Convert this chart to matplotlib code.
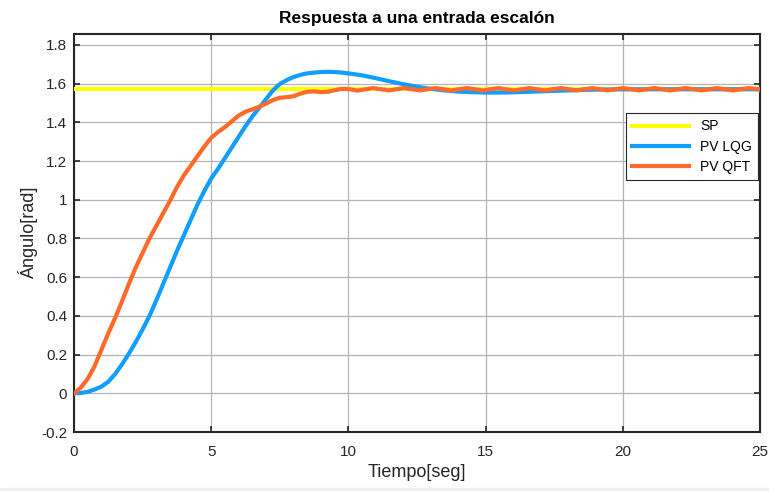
import matplotlib
matplotlib.use("Agg")
import matplotlib.pyplot as plt
from matplotlib.patches import Rectangle

plt.rcParams['font.family'] = ['Liberation Sans', 'DejaVu Sans']

# set point (constant)
t_sp = [0, 25]
v_sp = [1.5708, 1.5708]

# LQG response
t_lqg = [0, 0.25, 0.5, 0.75, 1.0, 1.25, 1.5, 1.75, 2.0, 2.25, 2.5, 2.75,
         3.0, 3.25, 3.5, 3.75, 4.0, 4.25, 4.5, 4.75, 5.0, 5.25, 5.5, 5.75,
         6.0, 6.25, 6.5, 6.75, 7.0, 7.25, 7.5, 7.75, 8.0, 8.25, 8.5, 8.75,
         9.0, 9.25, 9.5, 9.75, 10.0, 10.5, 11.0, 11.5, 12.0, 12.5, 13.0,
         13.5, 14.0, 14.5, 15.0, 15.5, 16.0, 17.0, 18.0, 19.0, 20.0, 22.0, 25.0]
v_lqg = [0, 0.002, 0.008, 0.02, 0.035, 0.06, 0.10, 0.15, 0.205, 0.265,
         0.33, 0.40, 0.48, 0.565, 0.65, 0.735, 0.815, 0.895, 0.975, 1.045,
         1.11, 1.16, 1.215, 1.27, 1.325, 1.38, 1.43, 1.475, 1.52, 1.565,
         1.598, 1.618, 1.634, 1.645, 1.653, 1.657, 1.660, 1.661, 1.660,
         1.657, 1.653, 1.643, 1.628, 1.612, 1.597, 1.584, 1.573, 1.565,
         1.559, 1.556, 1.554, 1.554, 1.555, 1.560, 1.565, 1.569, 1.5705,
         1.5708, 1.5708]

# QFT response
t_qft = [0, 0.25, 0.5, 0.75, 1.0, 1.25, 1.5, 1.75, 2.0, 2.25, 2.5, 2.75,
         3.0, 3.25, 3.5, 3.75, 4.0, 4.25, 4.5, 4.75, 5.0, 5.25, 5.5, 5.75,
         6.0, 6.25, 6.5, 6.75, 7.0, 7.25, 7.5, 7.75, 8.0, 8.25, 8.5, 8.75,
         9.0, 9.25, 9.5, 9.75, 10.0, 10.33,
         10.9, 11.47, 12.04, 12.61, 13.18, 13.75, 14.32, 14.89, 15.46, 16.03,
         16.6, 17.17, 17.74, 18.31, 18.88, 19.45, 20.02, 20.59, 21.16, 21.73,
         22.3, 22.87, 23.44, 24.01, 24.58, 25.0]
v_qft = [0, 0.03, 0.075, 0.14, 0.225, 0.31, 0.39, 0.475, 0.565, 0.65,
         0.725, 0.80, 0.865, 0.93, 0.995, 1.065, 1.125, 1.175, 1.225, 1.275,
         1.32, 1.35, 1.375, 1.405, 1.435, 1.455, 1.467, 1.48, 1.497, 1.515,
         1.527, 1.53, 1.535, 1.548, 1.558, 1.56, 1.556, 1.558, 1.566, 1.573,
         1.572, 1.564,
         1.577, 1.565, 1.577, 1.565, 1.577, 1.565, 1.577, 1.565, 1.577, 1.565,
         1.577, 1.565, 1.577, 1.565, 1.577, 1.565, 1.577, 1.565, 1.577, 1.565,
         1.577, 1.565, 1.577, 1.565, 1.577, 1.570]

x_ticks = [0, 5, 10, 15, 20, 25]
y_ticks = [-0.2, 0, 0.2, 0.4, 0.6, 0.8, 1, 1.2, 1.4, 1.6, 1.8]
y_tick_labels = ['-0.2', '0', '0.2', '0.4', '0.6', '0.8', '1', '1.2', '1.4', '1.6', '1.8']

fig = plt.figure(figsize=(7.69, 4.91), dpi=100)
ax = fig.add_axes([0.0962, 0.120, 0.892, 0.811])

ax.plot(t_sp, v_sp, color='#FFFF00', lw=3, label='SP', zorder=3)
ax.plot(t_lqg, v_lqg, color='#129EFF', lw=3, label='PV LQG', zorder=4)
ax.plot(t_qft, v_qft, color='#FF6929', lw=3, label='PV QFT', zorder=5)

ax.set_xlim(0, 25)
ax.set_ylim(-0.2, 1.857)
ax.set_xticks(x_ticks)
ax.set_yticks(y_ticks)
ax.set_yticklabels(y_tick_labels)
ax.grid(True, color='#b4b4b4', lw=0.9)
ax.set_axisbelow(True)
ax.tick_params(direction='in', length=4.5, width=1.2, top=True, right=True,
               labelsize=11, colors='#262626')
ax.tick_params(axis='x', pad=9)
ax.tick_params(axis='y', pad=5)
for s in ax.spines.values():
    s.set_linewidth(1.5)
    s.set_color('#262626')

ax.set_title('Respuesta a una entrada escalón', fontsize=12.5, fontweight='bold', pad=8)
ax.set_xlabel('Tiempo[seg]', fontsize=13, color='#262626', labelpad=4)
ax.set_ylabel('Ángulo[rad]', fontsize=13, color='#262626', labelpad=2)

leg = ax.legend(loc='upper right', bbox_to_anchor=(0.997, 0.801), borderaxespad=0,
                fontsize=10, fancybox=False, framealpha=1, edgecolor='#262626',
                handlelength=4.1, borderpad=0.45, labelspacing=0.45)
leg.get_frame().set_linewidth(0.8)

# light strip at the bottom edge
fig.patches.append(Rectangle((0, 0), 1, 0.007, transform=fig.transFigure,
                             color='#f0f0f0', zorder=0))

fig.savefig('out.png', dpi=100)
